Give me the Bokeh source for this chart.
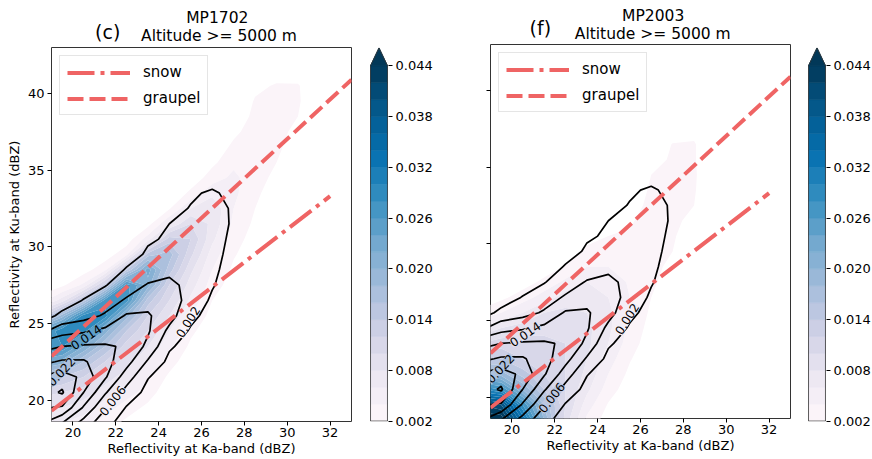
import numpy as np
from bokeh.plotting import figure
from bokeh.layouts import row, column
from bokeh.models import (Range1d, FixedTicker, PrintfTickFormatter, Legend,
                          LegendItem, ColumnDataSource)
from bokeh.core.properties import value
from bokeh.embed import file_html
from bokeh.resources import INLINE

FONT = "DejaVu Sans"
RED = "#ef6464"

# ---------------- data ----------------
ka_range = (19, 33)
ku_range = (18.6, 43.0)
ka_ticks = [20, 22, 24, 26, 28, 30, 32]
ku_ticks = [20, 25, 30, 35, 40]

fill_levels = [round(0.002 * k, 3) for k in range(1, 23)]      # 0.002 ... 0.044
line_levels = [0.002, 0.006, 0.010, 0.014, 0.018, 0.022, 0.026]
cbar_ticks = [0.002, 0.008, 0.014, 0.020, 0.026, 0.032, 0.038, 0.044]

# grid (bin centres, dBZ)
ka_grid = [18.5 + k for k in range(14)]
ku_grid = [17.5 + k for k in range(27)]

# observed density (contour lines), units of 1e-3, per Ka column from a start Ku
obs_ka = [18.5, 19.5, 20.5, 21.5, 22.5, 23.5, 24.5, 25.5, 26.5, 27.5]
obs_start = [17.5, 17.5, 17.5, 17.5, 17.5, 19.5, 21.5, 23.5, 25.5, 29.5]
obs_vals = [
    [12, 18.5, 22.5, 24, 22.5, 17, 12.5, 5, 0],
    [8.5, 14, 21.5, 26.5, 24, 18.5, 14, 8.5, 3, 0],
    [4.5, 8.5, 13.5, 18, 21, 18.5, 14.5, 9.5, 4.5, 2.2, 0],
    [1, 3, 6.5, 10.5, 14.5, 15.5, 14.5, 11, 6.5, 4, 1.8, 0],
    [0, 0.5, 1.7, 4.5, 8, 11.5, 13.5, 12.5, 10.5, 6.5, 4, 2.3, 0.5, 0],
    [0, 0.8, 2.2, 5.5, 9, 10.5, 10.5, 8.5, 6.3, 4, 2.5, 1.6, 0.3, 0],
    [0, 1, 2.5, 5, 7.5, 8, 7, 5, 3.5, 2.4, 2.0, 0.8, 0],
    [0.5, 1.5, 3, 4.5, 4.8, 4.5, 4, 3.5, 3, 2.2, 1.5, 0],
    [0.5, 1.4, 2.3, 3, 3.5, 3.8, 3.8, 3.5, 2.5, 0.5, 0],
    [0.5, 1, 1.5, 1.5, 1, 0.3],
]

# MP1702 simulated density (filled), units of 1e-3
mp1702_ka = [18.5, 19.5, 20.5, 21.5, 22.5, 23.5, 24.5, 25.5, 26.5, 27.5, 28.5, 29.5, 30.5]
mp1702_start = [17.5, 17.5, 17.5, 17.5, 17.5, 18.5, 20.5, 22.5, 24.5, 26.5, 29.5, 32.5, 35.5]
mp1702_vals = [
    [4, 6, 8, 11, 16, 23, 28, 24, 11, 3, 0.5, 0],
    [4, 6, 8, 10, 14, 21, 28, 30, 19, 7, 1.5, 0],
    [3, 5, 7, 9, 12, 16, 22, 29, 29, 15, 4.5, 1, 0],
    [1.5, 3, 5, 7, 9, 12, 16, 21, 29, 27, 13, 3.5, 0.8, 0],
    [0.5, 1.5, 3, 5, 7, 9, 11, 14, 19, 27, 27, 14, 3.5, 0.8, 0],
    [0.5, 1.5, 3, 4.5, 6, 8, 10, 12, 15, 21, 23, 15, 5, 1.2, 0],
    [0.5, 1.5, 3, 4.5, 6, 8, 10, 12, 15, 17, 13, 6, 1.8, 0],
    [0.5, 1.5, 2.5, 4, 5.5, 7, 8.5, 10.5, 12, 10, 6, 2.5, 0.6, 0],
    [0.5, 1.2, 2, 3, 4, 5, 6.5, 7.5, 7.5, 5.5, 3, 1.5, 0.5, 0],
    [0.5, 1, 1.6, 2.2, 2.8, 3.5, 4, 4.5, 4.5, 3.5, 2.5, 1.5, 0.7, 0],
    [0.8, 1.2, 1.6, 2, 2.4, 2.8, 3.2, 3.4, 3, 2.5, 2.2, 1.5, 0.5, 0],
    [0.5, 1, 1.5, 2, 2.4, 2.6, 2.7, 2.6, 2.2, 1, 0],
    [0.5, 1, 1.5, 2.0, 2.3, 2.2, 0.8, 0],
]

# MP2003 simulated density (filled), units of 1e-3
mp2003_ka = [18.5, 19.5, 20.5, 21.5, 22.5, 23.5, 24.5, 25.5, 26.5, 27.5, 28.5]
mp2003_start = [17.5, 17.5, 17.5, 17.5, 17.5, 17.5, 17.5, 19.5, 22.5, 26.5, 29.5]
mp2003_vals = [
    [40, 46, 42, 30, 20, 14, 10, 6, 2.5, 0.5, 0],
    [40, 46, 40, 28, 19, 14, 11, 8, 4, 1.5, 0.3, 0],
    [30, 34, 28, 20, 15, 12, 11, 9, 6, 3, 1, 0],
    [16, 20, 18, 14, 12, 11, 10.5, 9.5, 8, 5, 2.5, 0.8, 0],
    [6, 9, 10, 10, 10, 10, 10, 9.5, 8.5, 7, 4.5, 2.2, 0.8, 0],
    [2, 3.5, 5, 6.5, 7.5, 8, 8.5, 8.5, 8, 7, 6, 4, 2.5, 1.2, 0.3, 0],
    [0.5, 1, 1.8, 3, 4, 5, 6, 6.5, 6.5, 6, 5, 4, 3, 2, 1.2, 0.5, 0],
    [0.3, 0.8, 1.5, 2.2, 3, 3.5, 4, 4, 3.8, 3.2, 2.7, 2.2, 1.8, 1.2, 0.6, 0],
    [0.3, 0.8, 1.2, 1.6, 2, 2.4, 2.6, 2.8, 2.8, 2.7, 2.5, 2.3, 2, 1.2, 0.4, 0],
    [0.5, 1, 1.5, 2.0, 2.2, 2.4, 2.5, 2.5, 2.4, 2.3, 2.1, 0.5, 0],
    [0.5, 1.0, 1.5, 2.0, 2.2, 2.3, 2.2, 2.2, 1.2, 0.3, 0],
]

# reference relations (Ka, Ku end points)
snow_ka = [19, 32]
snow_ku = [19.3, 33.3]
graupel_ka = [19, 33]
graupel_ku = [22.85, 40.9]

# contour labels
lab_txt = ["0.002", "0.006", "0.014", "0.022"]
lab_ka = [25.37, 21.85, 20.62, 19.45]
lab_ku = [25.1, 19.95, 24.1, 21.85]
lab_deg = [58, 52, 34, 47]

# panel titles
panel_names = ["MP1702", "MP2003"]
panel_tags = ["(c)", "(f)"]
subtitle = "Altitude >= 5000 m"
xlabel = "Reflectivity at Ka-band (dBZ)"
ylabel = "Reflectivity at Ku-band (dBZ)"

# ---------------- helpers ----------------
def build(cols, starts, vals):
    Z = np.zeros((len(ku_grid), len(ka_grid)))
    for c, s, v in zip(cols, starts, vals):
        i = int(round(c - ka_grid[0]))
        j0 = int(round(s - ku_grid[0]))
        Z[j0:j0 + len(v), i] = np.array(v, dtype=float) * 1e-3
    return Z

Z_obs = build(obs_ka, obs_start, obs_vals)
Z_1702 = build(mp1702_ka, mp1702_start, mp1702_vals)
Z_2003 = build(mp2003_ka, mp2003_start, mp2003_vals)

PUBU = ["#fff7fb", "#ece7f2", "#d0d1e6", "#a6bddb", "#74a9cf",
        "#3690c0", "#0570b0", "#045a8d", "#023858"]

def _rgb(h):
    return [int(h[k:k + 2], 16) for k in (1, 3, 5)]

def cmap(t):
    t = min(max(t, 0.0), 1.0) * (len(PUBU) - 1)
    i = min(int(np.floor(t)), len(PUBU) - 2)
    f = t - i
    a, b = _rgb(PUBU[i]), _rgb(PUBU[i + 1])
    c = [round(a[k] + (b[k] - a[k]) * f) for k in range(3)]
    return "#%02x%02x%02x" % tuple(c)

nb = len(fill_levels) - 1
band_colors = [cmap((2 * i + 1) / (2 * nb)) for i in range(nb)]
over_color = PUBU[-1]
fill_colors = band_colors + [over_color]

def color_at(Z, x, y):
    fx, fy = x - ka_grid[0], y - ku_grid[0]
    i, j = int(np.floor(fx)), int(np.floor(fy))
    tx, ty = fx - i, fy - j
    v = (Z[j, i] * (1 - tx) * (1 - ty) + Z[j, i + 1] * tx * (1 - ty)
         + Z[j + 1, i] * (1 - tx) * ty + Z[j + 1, i + 1] * tx * ty)
    if v < fill_levels[0]:
        return "#ffffff"
    k = min(int((v - fill_levels[0]) / 0.002), nb)
    return fill_colors[k]

FH, FW, CBW = 374, 300, 19

def style_axis(ax, size="13px"):
    ax.axis_line_color = None
    ax.major_tick_out = 4
    ax.major_tick_in = 0
    ax.minor_tick_line_color = None
    ax.major_tick_line_color = "black"
    ax.major_label_text_font = FONT
    ax.major_label_text_font_size = size
    ax.major_label_text_color = "black"

def make_strip(x0, w, h, xs, ys, texts, sizes):
    s = figure(width=w, height=h, x_range=Range1d(x0, x0 + w), y_range=Range1d(h, 0),
               min_border=0, x_axis_type=None, y_axis_type=None, output_backend="svg",
               toolbar_location=None, outline_line_color=None)
    s.grid.visible = False
    src = ColumnDataSource(dict(x=xs, y=ys, t=texts, fs=sizes))
    s.text(x="x", y="y", text="t", text_font_size="fs", source=src, text_font=value(FONT),
           text_align="center", text_baseline="middle", text_color="black")
    return s

def make_panel(Z, left_b, right_b, bottom_b, show_ylab):
    p = figure(frame_width=FW, frame_height=FH, min_border_left=left_b,
               min_border_right=right_b, min_border_top=1, min_border_bottom=bottom_b,
               x_range=Range1d(*ka_range), y_range=Range1d(*ku_range),
               output_backend="svg", toolbar_location=None,
               outline_line_color="#333333", outline_line_width=1)
    p.grid.visible = False
    p.contour(x=ka_grid, y=ku_grid, z=Z, levels=fill_levels + [1.0],
              fill_color=fill_colors, line_color=None)
    p.contour(x=ka_grid, y=ku_grid, z=Z_obs, levels=line_levels,
              line_color="black", line_width=1.7)
    src = ColumnDataSource(dict(x=lab_ka, y=lab_ku, t=lab_txt,
                                a=[np.deg2rad(d) for d in lab_deg],
                                bg=[color_at(Z, a, b) for a, b in zip(lab_ka, lab_ku)]))
    p.text(x="x", y="y", text="t", angle="a", source=src, text_font=value(FONT),
           text_font_size="12px", text_align="center", text_baseline="middle",
           text_color="black", background_fill_color="bg")
    r_snow = p.line(snow_ka, snow_ku, line_color=RED, line_width=4, line_dash="27 6 4 6")
    r_gr = p.line(graupel_ka, graupel_ku, line_color=RED, line_width=4, line_dash="16 6")
    leg = Legend(items=[LegendItem(label="snow", renderers=[r_snow]),
                        LegendItem(label="graupel", renderers=[r_gr])],
                 location="top_left", margin=8, padding=7, spacing=8,
                 glyph_width=63, glyph_height=15, label_height=15, label_standoff=13,
                 label_text_font=FONT, label_text_font_size="15px", label_text_color="black",
                 border_line_color="#cccccc", border_line_width=1,
                 background_fill_alpha=0.85)
    p.add_layout(leg)

    style_axis(p.xaxis)
    style_axis(p.yaxis)
    p.xaxis.major_label_standoff = 2
    p.yaxis.major_label_standoff = 3
    p.xaxis.ticker = FixedTicker(ticks=ka_ticks)
    p.yaxis.ticker = FixedTicker(ticks=ku_ticks)
    p.xaxis.axis_label = xlabel
    p.xaxis.axis_label_standoff = 1
    p.xaxis.axis_label_text_font = FONT
    p.xaxis.axis_label_text_font_size = "13px"
    p.xaxis.axis_label_text_font_style = "normal"
    p.xaxis.axis_label_text_color = "black"
    if show_ylab:
        p.yaxis.axis_label = ylabel
        p.yaxis.axis_label_text_font = FONT
        p.yaxis.axis_label_text_font_size = "13px"
        p.yaxis.axis_label_text_font_style = "normal"
        p.yaxis.axis_label_text_color = "black"
        p.yaxis.axis_label_standoff = 3
    else:
        p.yaxis.major_label_overrides = {t: "" for t in ku_ticks}
    return p

def make_cbar(top, left_b, right_b, bottom_b, fsize):
    c = figure(frame_width=CBW, frame_height=FH, min_border_left=left_b,
               min_border_right=right_b, min_border_top=top, min_border_bottom=bottom_b,
               x_range=Range1d(-0.06, 1.06), y_range=Range1d(0.00195, 0.04615),
               x_axis_type=None, y_axis_location="right",
               output_backend="svg", toolbar_location=None, outline_line_color=None)
    c.grid.visible = False
    c.quad(left=0, right=1, bottom=fill_levels[:-1], top=fill_levels[1:],
           fill_color=band_colors, line_color=band_colors, line_width=0.6)
    top_lv = fill_levels[-1]
    tip = top_lv + 0.0021
    c.patch([0, 1, 0.5], [top_lv, top_lv, tip], fill_color=over_color, line_color=over_color)
    c.line([0, 1, 1, 0.5, 0, 0],
           [fill_levels[0], fill_levels[0], top_lv, tip, top_lv, fill_levels[0]],
           line_color="#333333", line_width=0.8)
    ax = c.yaxis
    style_axis(ax, fsize)
    ax.ticker = FixedTicker(ticks=cbar_ticks)
    ax.formatter = PrintfTickFormatter(format="%.3f")
    ax.major_label_standoff = 3
    return c

# left panel: x 0..360, frame 51..351, frame top 47 (window pixels)
stripA = make_strip(0, 360, 46, [199, 201, 67.5], [17.5, 35, 31],
                    [panel_names[0], subtitle, panel_tags[0]], ["15.5px", "15.5px", "19px"])
pA = make_panel(Z_1702, 51, 9, 38, True)
cbB = make_cbar(47, 9, 57, 38, "13px")
# right panel: x 445..800, frame 490..790, frame top 44
stripC = make_strip(445, 355, 43, [637.5, 637, 504], [15.5, 33.3, 27.5],
                    [panel_names[1], subtitle, panel_tags[1]], ["15.5px", "15.5px", "19px"])
pC = make_panel(Z_2003, 45, 10, 41, False)
cbD = make_cbar(44, 7, 46, 41, "13px")

layout = row(column(stripA, pA), cbB, column(stripC, pC), cbD)
open("out.html", "w").write(file_html(layout, INLINE))
